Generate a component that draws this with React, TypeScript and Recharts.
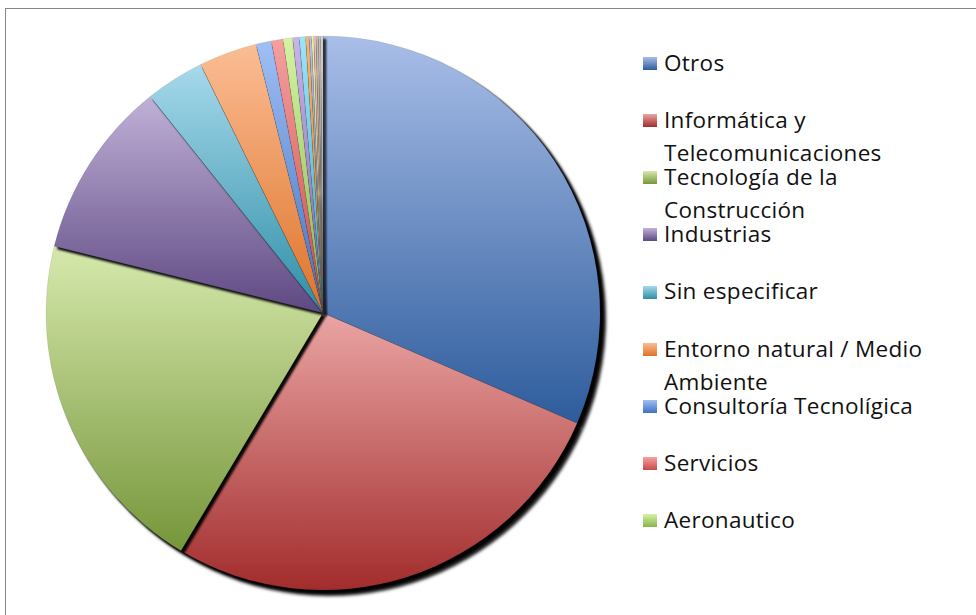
import React from 'react';
import { PieChart, Pie, Cell, Legend } from 'recharts';

const categories = [
  'Otros',
  'Informática y Telecomunicaciones',
  'Tecnología de la Construcción',
  'Industrias',
  'Sin especificar',
  'Entorno natural / Medio Ambiente',
  'Consultoría Tecnolígica',
  'Servicios',
  'Aeronautico',
  'Categoría 10',
  'Categoría 11',
  'Categoría 12',
  'Categoría 13',
  'Categoría 14',
  'Categoría 15',
  'Categoría 16',
  'Categoría 17',
  'Categoría 18',
];

const values = [
  31.5, 27.05, 20.3, 10.4, 3.44, 3.39, 0.9, 0.68, 0.56, 0.38, 0.37, 0.2,
  0.14, 0.13, 0.13, 0.14, 0.13, 0.13,
];

const lightColors = [
  '#a9bee8', '#eaa5a4', '#d6e9ad', '#c0b1d7', '#a6d9eb', '#fbbd94',
  '#a0bff5', '#f5a0a0', '#d4f3a4', '#c9b6e6', '#9de4f8', '#fdb56f',
  '#b3c6f0', '#e6f5b0', '#f5c0b8', '#c8c0b0', '#c4c4c4', '#dcd4cc',
];

const darkColors = [
  '#2d5c9c', '#a22c2c', '#76963a', '#5e4882', '#2e8ea7', '#de7329',
  '#3f72c0', '#c94a48', '#86b64a', '#7d5fa8', '#33a7c8', '#e07a1c',
  '#5a7fc0', '#a5c060', '#c88070', '#8a8070', '#808080', '#a09890',
];

const legendCount = 9;

const data = categories.map((name, i) => ({ name, value: values[i] }));

const W = 971;
const H = 607;

const renderLegend = () => (
  <div
    style={{
      position: 'relative',
      fontFamily: '"Open Sans", sans-serif',
      fontSize: 22.5,
      lineHeight: '33px',
      color: '#111',
      letterSpacing: 0.3,
    }}
  >
    {categories.slice(0, legendCount).map((name, i) => (
      <div
        key={name}
        style={{ position: 'absolute', top: i * 57.1, left: 0, width: 320 }}
      >
        <span
          style={{
            position: 'absolute',
            left: 0,
            top: 11.2,
            width: 14,
            height: 13,
            background: `linear-gradient(${lightColors[i]}, ${darkColors[i]})`,
          }}
        />
        <div style={{ marginLeft: 21, width: 300 }}>{name}</div>
      </div>
    ))}
  </div>
);

export default function App() {
  return (
    <div
      style={{
        position: 'absolute',
        left: 5,
        top: 8,
        width: W,
        height: H,
        borderTop: '1px solid #878787',
        borderLeft: '1px solid #878787',
        overflow: 'hidden',
        background: '#fff',
      }}
    >
      <style>{`.pie-shadow { filter: drop-shadow(3px 3px 1.2px rgba(0,0,0,0.95)); }`}</style>
      <PieChart width={W} height={H} margin={{ top: 0, right: 0, bottom: 0, left: 0 }}>
        <defs>
          {data.map((d, i) => (
            <linearGradient key={d.name} id={`g${i}`} x1="0" y1="0" x2="0" y2="1">
              <stop offset="0%" stopColor={lightColors[i]} />
              <stop offset="100%" stopColor={darkColors[i]} />
            </linearGradient>
          ))}
        </defs>
        <Pie
          className="pie-shadow"
          data={data}
          dataKey="value"
          nameKey="name"
          cx={317}
          cy={304}
          outerRadius={277}
          startAngle={90}
          endAngle={-270}
          stroke="rgba(60,60,60,0.2)"
          strokeWidth={0.5}
          isAnimationActive={false}
        >
          {data.map((d, i) => (
            <Cell key={d.name} fill={`url(#g${i})`} />
          ))}
        </Pie>
        <Legend
          content={renderLegend}
          wrapperStyle={{ left: 637, top: 37, width: 330, height: 540, right: 'auto', bottom: 'auto' }}
        />
      </PieChart>
    </div>
  );
}
